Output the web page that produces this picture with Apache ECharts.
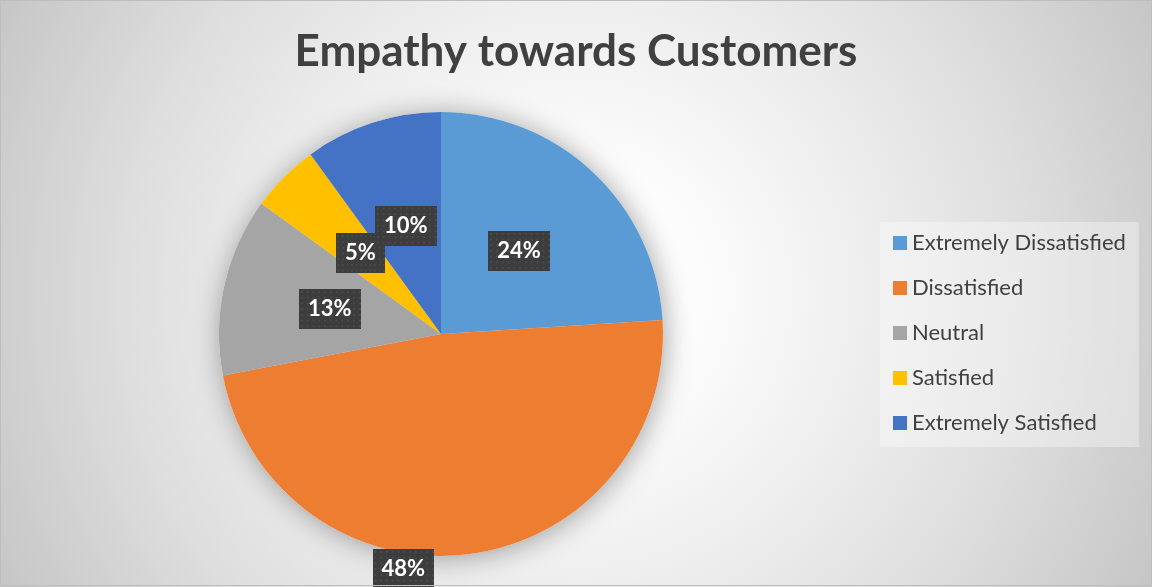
<!DOCTYPE html>
<html>
<head>
<meta charset="utf-8">
<title>Empathy towards Customers</title>
<script src="https://cdn.jsdelivr.net/npm/echarts@6/dist/echarts.min.js"></script>
<style>
  html, body { margin: 0; padding: 0; background: #ffffff; }
  #chart { width: 1152px; height: 587px; }
</style>
</head>
<body>
<div id="chart"></div>
<script>
// Survey answers and their share of respondents (percent)
const categories = ['Extremely Dissatisfied', 'Dissatisfied', 'Neutral', 'Satisfied', 'Extremely Satisfied'];
const shares = [24, 48, 13, 5, 10];
const sliceColors = ['#5B9BD5', '#ED7D31', '#A5A5A5', '#FFC000', '#4472C4'];
const chartTitle = 'Empathy towards Customers';

const FONT = 'Lato, "Open Sans", sans-serif';
const INK = '#404040';

// Dark, finely dotted fill used behind the percentage labels
function dottedTexture(w, h) {
  const c = document.createElement('canvas');
  c.width = w; c.height = h;
  const g = c.getContext('2d');
  g.fillStyle = '#3d3d3d';
  g.fillRect(0, 0, w, h);
  g.fillStyle = '#4b4b4b';
  for (let y = 2; y < h; y += 6) {
    for (let x = 2; x < w; x += 6) {
      g.fillRect(x, y, 2, 2);
    }
  }
  return c;
}
const texture = dottedTexture(64, 42);

const labelStyle = {
  show: true,
  position: 'inside',
  formatter: '{c}%',
  color: '#ffffff',
  fontFamily: FONT,
  fontWeight: 'bold',
  fontSize: 22,
  lineHeight: 24,
  padding: [8, 9, 8, 9],
  backgroundColor: { image: texture },
  shadowColor: 'rgba(0,0,0,0.35)',
  shadowBlur: 4,
  shadowOffsetX: 3,
  shadowOffsetY: 3
};

// The large slice carries its label just below the pie edge
const labelOffsets = { 1: [-52, 122] };

const sliceData = categories.map((name, i) => ({
  name: name,
  value: shares[i],
  itemStyle: { color: sliceColors[i] },
  label: labelOffsets[i] ? { offset: labelOffsets[i] } : undefined
}));

const PIE_CENTER = [441, 334];
const PIE_RADIUS = 222;

const chart = echarts.init(document.getElementById('chart'), null, { renderer: 'canvas' });

chart.setOption({
  animation: false,
  backgroundColor: {
    type: 'radial', x: 0.5, y: 0.5, r: 1.1,
    colorStops: [
      { offset: 0, color: '#ffffff' },
      { offset: 0.2, color: '#fcfcfc' },
      { offset: 0.45, color: '#eeeeee' },
      { offset: 0.7, color: '#dedede' },
      { offset: 1, color: '#c6c6c6' }
    ]
  },
  title: {
    text: chartTitle,
    left: 'center',
    top: 25,
    textStyle: { fontFamily: FONT, fontWeight: 'bold', fontSize: 44, color: INK }
  },
  legend: {
    orient: 'vertical',
    left: 880,
    top: 222,
    padding: [10, 13, 13, 13],
    itemGap: 23,
    itemWidth: 14,
    itemHeight: 14,
    icon: 'rect',
    backgroundColor: 'rgba(255,255,255,0.35)',
    selectedMode: false,
    data: categories,
    textStyle: { fontFamily: FONT, fontSize: 22, color: INK, lineHeight: 22, padding: [0, 0, 0, 0] }
  },
  graphic: [{
    type: 'rect',
    silent: true,
    z: 100,
    shape: { x: 0.5, y: 0.5, width: 1151, height: 585 },
    style: { fill: 'none', stroke: '#bdbdbd', lineWidth: 1 }
  }],
  series: [
    {
      name: chartTitle,
      type: 'pie',
      center: PIE_CENTER,
      radius: PIE_RADIUS,
      startAngle: 90,
      clockwise: true,
      z: 3,
      avoidLabelOverlap: false,
      labelLayout: { hideOverlap: false },
      label: labelStyle,
      labelLine: { show: false },
      emphasis: { disabled: true },
      itemStyle: { borderWidth: 0 },
      data: sliceData
    },
    {
      // soft halo beneath the pie
      name: 'halo',
      type: 'pie',
      center: PIE_CENTER,
      radius: PIE_RADIUS,
      startAngle: 90,
      silent: true,
      z: 1,
      label: { show: false },
      labelLine: { show: false },
      emphasis: { disabled: true },
      itemStyle: {
        color: '#ffffff',
        shadowBlur: 28,
        shadowColor: 'rgba(0,0,0,0.35)',
        shadowOffsetX: 2,
        shadowOffsetY: 2
      },
      data: categories.map((name, i) => ({ name: name, value: shares[i] }))
    }
  ]
});
</script>
</body>
</html>
